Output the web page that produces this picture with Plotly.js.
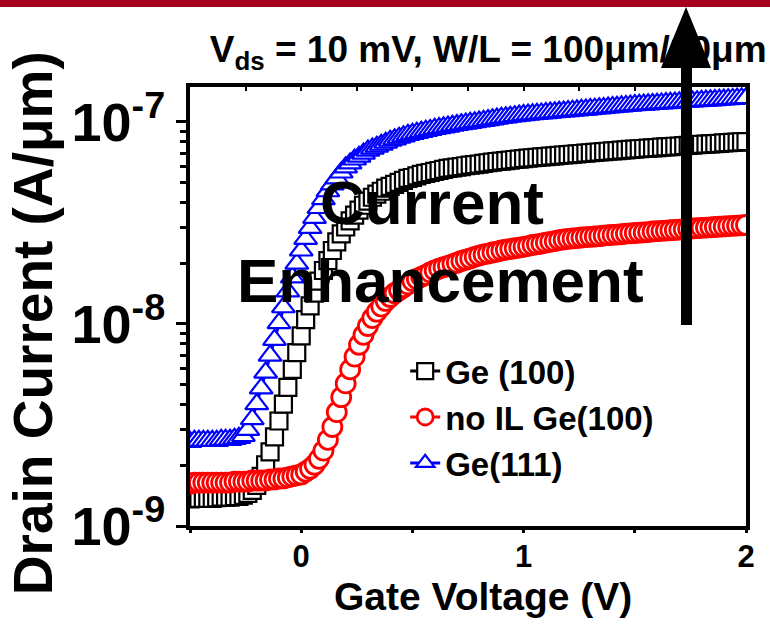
<!DOCTYPE html>
<html>
<head>
<meta charset="utf-8">
<script src="https://cdn.plot.ly/plotly-3.0.1.min.js"></script>
<style>html,body{margin:0;padding:0;background:#fff;}#chart{width:770px;height:628px;}</style>
</head>
<body>
<div id="chart"></div>
<script>
// Gate voltage sweep (V)
const gateVoltage = [
-0.50,-0.48,-0.46,-0.44,-0.42,-0.40,-0.38,-0.36,-0.34,-0.32,-0.30,-0.28,-0.26,-0.24,-0.22,-0.20,-0.18,-0.16,-0.14,-0.12,-0.10,-0.08,-0.06,-0.04,-0.02,0.00,
0.02,0.04,0.06,0.08,0.10,0.12,0.14,0.16,0.18,0.20,0.22,0.24,0.26,0.28,0.30,0.32,0.34,0.36,0.38,0.40,0.42,0.44,0.46,0.48,0.50,
0.52,0.54,0.56,0.58,0.60,0.62,0.64,0.66,0.68,0.70,0.72,0.74,0.76,0.78,0.80,0.82,0.84,0.86,0.88,0.90,0.92,0.94,0.96,0.98,1.00,
1.02,1.04,1.06,1.08,1.10,1.12,1.14,1.16,1.18,1.20,1.22,1.24,1.26,1.28,1.30,1.32,1.34,1.36,1.38,1.40,1.42,1.44,1.46,1.48,1.50,
1.52,1.54,1.56,1.58,1.60,1.62,1.64,1.66,1.68,1.70,1.72,1.74,1.76,1.78,1.80,1.82,1.84,1.86,1.88,1.90,1.92,1.94,1.96,1.98,2.00];

// Drain current (A/um) - Ge (100)
const idGe100 = [
1.36e-9,1.37e-9,1.37e-9,1.37e-9,1.37e-9,1.37e-9,1.38e-9,1.39e-9,1.39e-9,1.39e-9,1.40e-9,1.40e-9,1.42e-9,1.45e-9,1.50e-9,1.59e-9,1.76e-9,2.01e-9,2.33e-9,2.76e-9,3.31e-9,4.01e-9,4.85e-9,5.96e-9,7.21e-9,8.73e-9,
1.05e-8,1.23e-8,1.42e-8,1.63e-8,1.84e-8,2.06e-8,2.31e-8,2.55e-8,2.79e-8,3.02e-8,3.24e-8,3.46e-8,3.66e-8,3.87e-8,4.06e-8,4.24e-8,4.39e-8,4.54e-8,4.70e-8,4.80e-8,4.91e-8,5.02e-8,5.14e-8,5.26e-8,5.31e-8,
5.41e-8,5.50e-8,5.56e-8,5.62e-8,5.69e-8,5.75e-8,5.82e-8,5.89e-8,5.93e-8,5.97e-8,6.01e-8,6.07e-8,6.11e-8,6.15e-8,6.19e-8,6.24e-8,6.28e-8,6.32e-8,6.37e-8,6.40e-8,6.44e-8,6.47e-8,6.52e-8,6.55e-8,6.59e-8,
6.62e-8,6.65e-8,6.68e-8,6.71e-8,6.74e-8,6.77e-8,6.80e-8,6.83e-8,6.86e-8,6.89e-8,6.92e-8,6.95e-8,6.98e-8,7.01e-8,7.04e-8,7.07e-8,7.10e-8,7.13e-8,7.16e-8,7.19e-8,7.22e-8,7.25e-8,7.28e-8,7.31e-8,7.34e-8,
7.37e-8,7.39e-8,7.42e-8,7.44e-8,7.47e-8,7.50e-8,7.52e-8,7.55e-8,7.58e-8,7.60e-8,7.63e-8,7.66e-8,7.68e-8,7.71e-8,7.74e-8,7.76e-8,7.79e-8,7.82e-8,7.84e-8,7.87e-8,7.90e-8,7.92e-8,7.95e-8,7.98e-8,8.00e-8];

// Drain current (A/um) - no IL Ge(100)
const idNoIL = [
1.62e-9,1.64e-9,1.64e-9,1.64e-9,1.64e-9,1.64e-9,1.64e-9,1.64e-9,1.64e-9,1.64e-9,1.66e-9,1.66e-9,1.66e-9,1.66e-9,1.68e-9,1.68e-9,1.68e-9,1.68e-9,1.70e-9,1.70e-9,1.72e-9,1.72e-9,1.74e-9,1.76e-9,1.78e-9,1.80e-9,
1.86e-9,1.92e-9,2.01e-9,2.15e-9,2.36e-9,2.67e-9,3.09e-9,3.66e-9,4.34e-9,5.08e-9,5.96e-9,6.89e-9,7.89e-9,8.83e-9,9.77e-9,1.07e-8,1.15e-8,1.22e-8,1.30e-8,1.36e-8,1.42e-8,1.47e-8,1.52e-8,1.57e-8,1.63e-8,
1.67e-8,1.71e-8,1.75e-8,1.80e-8,1.84e-8,1.88e-8,1.91e-8,1.94e-8,1.98e-8,2.01e-8,2.05e-8,2.08e-8,2.11e-8,2.15e-8,2.18e-8,2.21e-8,2.23e-8,2.26e-8,2.28e-8,2.31e-8,2.33e-8,2.35e-8,2.37e-8,2.39e-8,2.41e-8,
2.43e-8,2.46e-8,2.48e-8,2.50e-8,2.53e-8,2.55e-8,2.57e-8,2.60e-8,2.62e-8,2.64e-8,2.65e-8,2.66e-8,2.68e-8,2.69e-8,2.70e-8,2.71e-8,2.72e-8,2.74e-8,2.75e-8,2.76e-8,2.77e-8,2.78e-8,2.80e-8,2.81e-8,2.82e-8,
2.83e-8,2.84e-8,2.85e-8,2.87e-8,2.88e-8,2.89e-8,2.90e-8,2.91e-8,2.92e-8,2.93e-8,2.94e-8,2.95e-8,2.97e-8,2.98e-8,2.99e-8,3.00e-8,3.01e-8,3.02e-8,3.03e-8,3.04e-8,3.05e-8,3.06e-8,3.07e-8,3.08e-8,3.09e-8];

// Drain current (A/um) - Ge(111)
const idGe111 = [
2.61e-9,2.64e-9,2.64e-9,2.64e-9,2.64e-9,2.64e-9,2.64e-9,2.67e-9,2.67e-9,2.67e-9,2.70e-9,2.73e-9,2.79e-9,2.99e-9,3.38e-9,4.01e-9,4.80e-9,5.75e-9,6.97e-9,8.35e-9,1.01e-8,1.21e-8,1.45e-8,1.70e-8,1.99e-8,2.31e-8,
2.64e-8,2.99e-8,3.35e-8,3.75e-8,4.15e-8,4.54e-8,4.91e-8,5.26e-8,5.62e-8,5.96e-8,6.23e-8,6.52e-8,6.73e-8,6.97e-8,7.21e-8,7.38e-8,7.54e-8,7.71e-8,7.89e-8,8.07e-8,8.20e-8,8.35e-8,8.49e-8,8.63e-8,8.73e-8,
8.83e-8,8.93e-8,9.03e-8,9.13e-8,9.24e-8,9.32e-8,9.41e-8,9.49e-8,9.58e-8,9.66e-8,9.74e-8,9.81e-8,9.89e-8,9.97e-8,1.005e-7,1.013e-7,1.022e-7,1.030e-7,1.039e-7,1.047e-7,1.054e-7,1.061e-7,1.068e-7,1.075e-7,1.082e-7,
1.087e-7,1.092e-7,1.097e-7,1.102e-7,1.107e-7,1.112e-7,1.117e-7,1.122e-7,1.127e-7,1.132e-7,1.137e-7,1.142e-7,1.147e-7,1.152e-7,1.157e-7,1.163e-7,1.168e-7,1.173e-7,1.179e-7,1.184e-7,1.189e-7,1.195e-7,1.200e-7,1.205e-7,1.211e-7,
1.215e-7,1.219e-7,1.223e-7,1.227e-7,1.231e-7,1.235e-7,1.239e-7,1.243e-7,1.247e-7,1.251e-7,1.255e-7,1.259e-7,1.263e-7,1.267e-7,1.271e-7,1.275e-7,1.279e-7,1.283e-7,1.288e-7,1.292e-7,1.296e-7,1.300e-7,1.304e-7,1.308e-7,1.312e-7];

const seriesNames = ['Ge (100)', 'no IL Ge(100)', 'Ge(111)'];

// Tick values / labels
const xTickVals = [0, 1, 2];
const xTickText = ['0', '1', '2'];
const xBottomTickVals = [-0.5, 0, 0.5, 1, 1.5, 2];
const xTopTickVals = [-0.5,-0.25,0,0.25,0.5,0.75,1,1.25,1.5,1.75,2];
const yTickVals = [1e-9, 1e-8, 1e-7];
const yTickText = ['10<sup>-9</sup>', '10<sup>-8</sup>', '10<sup>-7</sup>'];
const yMinorVals = [2e-9,3e-9,4e-9,5e-9,6e-9,7e-9,8e-9,9e-9,2e-8,3e-8,4e-8,5e-8,6e-8,7e-8,8e-8,9e-8];

const FONT = 'Liberation Sans, Arial, Helvetica, sans-serif';

const traces = [
  {x: gateVoltage, y: idGe100, name: seriesNames[0], type: 'scatter', mode: 'lines+markers',
   line: {color: '#000000', width: 3},
   marker: {symbol: 'square', size: 17, color: '#ffffff', line: {color: '#000000', width: 2.2}}},
  {x: gateVoltage, y: idNoIL, name: seriesNames[1], type: 'scatter', mode: 'lines+markers',
   line: {color: '#ff0000', width: 3},
   marker: {symbol: 'circle', size: 19, color: '#ffffff', line: {color: '#ff0000', width: 2.8}}},
  {x: gateVoltage, y: idGe111, name: seriesNames[2], type: 'scatter', mode: 'lines+markers',
   line: {color: '#0000ff', width: 3},
   marker: {symbol: 'triangle-up', size: 20, color: '#ffffff', line: {color: '#0000ff', width: 2.2}}},
  // empty helper traces so that the tick-only axes are drawn
  {x: [], y: [], xaxis: 'x2', yaxis: 'y', type: 'scatter', mode: 'markers', showlegend: false, hoverinfo: 'skip'},
  {x: [], y: [], xaxis: 'x3', yaxis: 'y', type: 'scatter', mode: 'markers', showlegend: false, hoverinfo: 'skip'}
];

const layout = {
  width: 770, height: 628,
  margin: {l: 190, r: 24, t: 87, b: 102},
  paper_bgcolor: '#ffffff', plot_bgcolor: '#ffffff',
  font: {family: FONT, color: '#000000', weight: 'bold'},
  showlegend: true,
  title: {
    text: 'V<sub>ds</sub> = 10 mV, W/L = 100μm/20μm',
    font: {family: FONT, size: 37, color: '#000000', weight: 'bold'},
    xref: 'container', yref: 'container', x: 0.634, y: 0.922,
    xanchor: 'center', yanchor: 'middle'
  },
  xaxis: {
    range: [-0.5, 2], autorange: false,
    tickmode: 'array', tickvals: xTickVals, ticktext: xTickText,
    ticks: '',
    showline: true, linewidth: 4, linecolor: '#000000', mirror: true,
    showgrid: false, zeroline: false,
    tickfont: {family: FONT, size: 31, weight: 'bold'}
  },
  xaxis2: {
    overlaying: 'x', side: 'top', range: [-0.5, 2], autorange: false,
    tickmode: 'array', tickvals: xTopTickVals, showticklabels: false,
    ticks: 'inside', ticklen: 4, tickwidth: 2, tickcolor: '#000000',
    showline: false, showgrid: false, zeroline: false
  },
  xaxis3: {
    overlaying: 'x', side: 'bottom', range: [-0.5, 2], autorange: false,
    tickmode: 'array', tickvals: xBottomTickVals, showticklabels: false,
    ticks: 'outside', ticklen: 6, tickwidth: 3, tickcolor: '#000000',
    showline: false, showgrid: false, zeroline: false
  },
  yaxis: {
    type: 'log', range: [-9, -6.827], autorange: false,
    tickmode: 'array', tickvals: yTickVals, ticktext: yTickText,
    ticks: 'outside', ticklen: 10, tickwidth: 3, tickcolor: '#000000',
    minor: {tickmode: 'array', tickvals: yMinorVals, ticks: 'outside', ticklen: 6, tickwidth: 3, tickcolor: '#000000', showgrid: false},
    showline: true, linewidth: 4, linecolor: '#000000', mirror: true,
    showgrid: false, zeroline: false,
    tickfont: {family: FONT, size: 54, weight: 'bold'}
  },
  legend: {
    x: 0.387, y: 0.248, xanchor: 'left', yanchor: 'middle',
    bgcolor: 'rgba(0,0,0,0)', borderwidth: 0,
    font: {family: FONT, size: 33, color: '#000000', weight: 'bold'},
    tracegroupgap: 0
  },
  annotations: [
    {text: 'Drain Current (A/μm)', xref: 'paper', yref: 'paper', x: -0.2824, y: 0.462,
     xanchor: 'center', yanchor: 'middle', textangle: -90, showarrow: false,
     font: {family: FONT, size: 55, color: '#000000', weight: 'bold'}},
    {text: 'Gate Voltage (V)', xref: 'paper', yref: 'paper', x: 0.527, y: -0.160,
     xanchor: 'center', yanchor: 'middle', showarrow: false,
     font: {family: FONT, size: 39, color: '#000000', weight: 'bold'}},
    {text: 'Current', xref: 'paper', yref: 'paper', x: 0.435, y: 0.736, xanchor: 'center', yanchor: 'middle',
     showarrow: false, font: {family: FONT, size: 62, color: '#000000', weight: 'bold'}},
    {text: 'Enhancement', xref: 'paper', yref: 'paper', x: 0.451, y: 0.560, xanchor: 'center', yanchor: 'middle',
     showarrow: false, font: {family: FONT, size: 62, color: '#000000', weight: 'bold'}}
  ],
  shapes: [
    {type: 'rect', xref: 'paper', yref: 'paper', x0: -0.345, x1: 1.045, y0: 1.1822, y1: 1.205,
     fillcolor: '#a5001e', line: {width: 0}, layer: 'above'},
    {type: 'path', xref: 'paper', yref: 'paper', layer: 'above',
     path: 'M0.8831,0.4579 L0.8831,1.0433 L0.8471,1.0433 L0.8921,1.1822 L0.9371,1.0433 L0.9029,1.0433 L0.9029,0.4579 Z',
     fillcolor: '#000000', line: {width: 0}}
  ]
};

Plotly.newPlot('chart', traces, layout, {displayModeBar: false, staticPlot: true});
</script>
</body>
</html>
